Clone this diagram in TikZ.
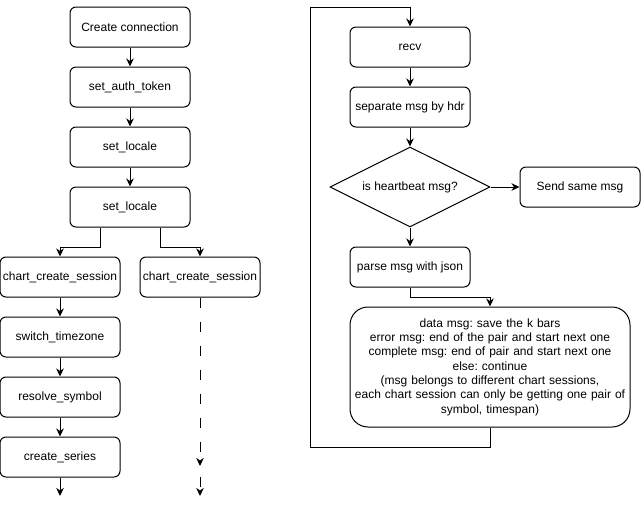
\documentclass[tikz,border=0pt]{standalone}
\usepackage{fontspec}
\setmainfont{Liberation Sans}
\usetikzlibrary{shapes.geometric,arrows.meta}
\begin{document}
\frenchspacing
\begin{tikzpicture}[x=1pt,y=-1pt,
  font=\fontsize{12}{14.3}\selectfont\frenchspacing,
  line width=1pt,
  box/.style={draw, rounded corners=6pt, minimum width=120pt, minimum height=40pt, inner sep=0pt, align=center},
  decision/.style={draw, diamond, aspect=2, minimum width=160pt, minimum height=80pt, inner sep=0pt},
  bigbox/.style={draw, rounded corners=18pt, minimum width=280pt, minimum height=120pt, inner sep=0pt, text width=280pt, align=center},
  arr/.style={-{Stealth[length=8pt,width=7.5pt,inset=2.5pt]}},
  dashline/.style={dash pattern=on 10pt off 14pt}
]
\useasboundingbox (0,0) rectangle (641,506);

% left column
\node[box] (conn) at (130,27) {Create connection};
\node[box] (auth) at (130,87) {set\_auth\_token};
\node[box] (loc1) at (130,147) {set\_locale};
\node[box] (loc2) at (130,207) {set\_locale};
\node[box] (ccs1) at (60,277) {chart\_create\_session};
\node[box] (ccs2) at (200,277) {chart\_create\_session};
\node[box] (tz) at (60,337) {switch\_timezone};
\node[box] (sym) at (60,397) {resolve\_symbol};
\node[box] (ser) at (60,457) {create\_series};
\coordinate (serend) at (60,496);
\coordinate (d1) at (200,466);
\coordinate (d2) at (200,477);
\coordinate (d3) at (200,496);

\draw[arr] (conn) -- (auth);
\draw[arr] (auth) -- (loc1);
\draw[arr] (loc1) -- (loc2);
\draw[arr] ([xshift=-30pt]loc2.south) -- ++(0,20) -| (ccs1.north);
\draw[arr] ([xshift=30pt]loc2.south) -- ++(0,20) -| (ccs2.north);
\draw[arr] (ccs1) -- (tz);
\draw[arr] (tz) -- (sym);
\draw[arr] (sym) -- (ser);
\draw[arr] (ser) -- (serend);
\draw[arr,dashline] (ccs2.south) -- (d1);
\draw[arr,dashline] (d2) -- (d3);

% right column
\node[box] (recv) at (410,47) {recv};
\node[box] (sep) at (410,107) {separate msg by hdr};
\node[decision] (hb) at (410,187) {is heartbeat msg?};
\node[box] (send) at (580,187) {Send same msg};
\node[box] (parse) at (410,267) {parse msg with json};
\node[bigbox] (big) at (490,367) {data msg: save the k bars\\
error msg: end of the pair and start next one\\
complete msg: end of pair and start next one\\
else: continue\\
(msg belongs to different chart sessions,\\
each chart session can only be getting one pair of\\
symbol, timespan)};
\coordinate (lp) at (310,7);

\draw[arr] (recv) -- (sep);
\draw[arr] (sep) -- (hb.north);
\draw[arr] (hb.east) -- (send.west);
\draw[arr] (hb.south) -- (parse.north);
\draw[arr] (parse.south) -- ++(0,10) -| (big.north);
\draw[arr] (big.south) -- ++(0,20) -| (lp) -| (recv.north);
\end{tikzpicture}
\end{document}
